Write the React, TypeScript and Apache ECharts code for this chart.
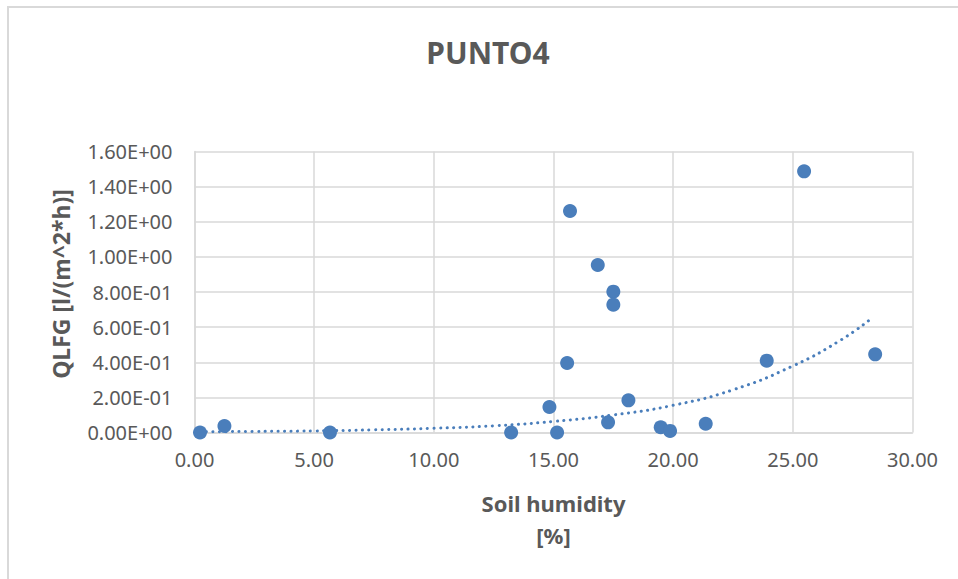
import React, { useEffect, useRef } from "react";
import * as echarts from "echarts";

const humidity = [0.23, 1.25, 5.66, 13.23, 14.83, 15.15, 15.57, 15.69, 16.85, 17.28, 17.5, 17.5, 18.13, 19.48, 19.87, 21.36, 23.91, 25.47, 28.44];
const qlfg = [0.0, 0.037, 0.0, 0.0, 0.145, 0.0, 0.396, 1.261, 0.954, 0.058, 0.802, 0.728, 0.183, 0.03, 0.009, 0.05, 0.409, 1.487, 0.445];

const trendX = [0.23, 2.5, 5, 7.5, 10, 12.5, 15, 17.5, 20, 22.5, 25, 27, 28.27];
const trendY = [0.004, 0.006, 0.009, 0.015, 0.024, 0.038, 0.063, 0.1, 0.155, 0.243, 0.379, 0.526, 0.648];

const xTicks = { min: 0, max: 30, interval: 5 };
const yTicks = { min: 0, max: 1.6, interval: 0.2 };

const titleText = "PUNTO4";
const xName = "Soil humidity\n[%]";
const yName = "QLFG [l/(m^2*h)]";

const COLOR = "#4a7ebb";
const GRID = "#d9d9d9";
const TEXT = "#595959";
const FONT = "'Noto Sans', 'Open Sans', sans-serif";

function fmtExp(v: number): string {
  if (v === 0) return "0.00E+00";
  let e = Math.floor(Math.log10(Math.abs(v)) + 1e-9);
  let m = v / Math.pow(10, e);
  let ms = m.toFixed(2);
  if (parseFloat(ms) >= 10) {
    e += 1;
    ms = (v / Math.pow(10, e)).toFixed(2);
  }
  const sign = e < 0 ? "-" : "+";
  const ea = Math.abs(e);
  return `${ms}E${sign}${ea < 10 ? "0" + ea : ea}`;
}

export default function App() {
  const ref = useRef<HTMLDivElement>(null);
  useEffect(() => {
    if (!ref.current) return;
    const chart = echarts.init(ref.current, null, { renderer: "svg" });
    chart.setOption({
      animation: false,
      backgroundColor: "#ffffff",
      textStyle: { fontFamily: FONT },
      grid: { left: 194.5, right: 45.5, top: 151.5, bottom: 146.5, containLabel: false },
      graphic: [
        {
          type: "rect",
          shape: { x: 8, y: 7, width: 1200, height: 1200 },
          style: { fill: "none", stroke: GRID, lineWidth: 2 },
          silent: true,
        },
        {
          type: "text",
          x: 488,
          y: 52,
          style: {
            text: titleText,
            fontSize: 30,
            fontWeight: "bold",
            fontFamily: FONT,
            fill: TEXT,
            align: "center",
            verticalAlign: "middle",
          },
        },
        {
          type: "text",
          x: 61,
          y: 284,
          rotation: Math.PI / 2,
          style: {
            text: yName,
            fontSize: 23,
            fontWeight: "bold",
            fontFamily: FONT,
            fill: TEXT,
            align: "center",
            verticalAlign: "middle",
          },
        },
      ],
      xAxis: {
        type: "value",
        min: xTicks.min,
        max: xTicks.max,
        interval: xTicks.interval,
        name: xName,
        nameLocation: "middle",
        nameGap: 54,
        nameTextStyle: {
          fontSize: 22,
          fontWeight: "bold",
          color: TEXT,
          fontFamily: FONT,
          lineHeight: 32,
          verticalAlign: "top",
        },
        axisLine: { show: true, lineStyle: { color: GRID, width: 1.5 } },
        axisTick: { show: false },
        axisLabel: {
          color: TEXT,
          fontSize: 20,
          fontFamily: FONT,
          margin: 17,
          formatter: (v: number) => v.toFixed(2),
        },
        splitLine: { show: true, lineStyle: { color: GRID, width: 1.5 } },
      },
      yAxis: {
        type: "value",
        min: yTicks.min,
        max: yTicks.max,
        interval: yTicks.interval,
        axisLine: { show: true, lineStyle: { color: GRID, width: 1.5 } },
        axisTick: { show: false },
        axisLabel: {
          color: TEXT,
          fontSize: 20,
          fontFamily: FONT,
          margin: 22,
          formatter: (v: number) => fmtExp(v),
        },
        splitLine: { show: true, lineStyle: { color: GRID, width: 1.5 } },
      },
      series: [
        {
          type: "line",
          data: trendX.map((x, i) => [x, trendY[i]]),
          smooth: true,
          showSymbol: false,
          symbol: "none",
          lineStyle: { color: COLOR, width: 3, type: [0.1, 6.4], cap: "round" },
          z: 2,
        },
        {
          type: "scatter",
          data: humidity.map((x, i) => [x, qlfg[i]]),
          symbol: "circle",
          symbolSize: 14,
          itemStyle: { color: COLOR, opacity: 1 },
          z: 3,
        },
      ],
    });
    return () => chart.dispose();
  }, []);
  return (
    <div
      ref={ref}
      style={{ position: "absolute", left: 0, top: 0, width: 958, height: 579 }}
    />
  );
}
